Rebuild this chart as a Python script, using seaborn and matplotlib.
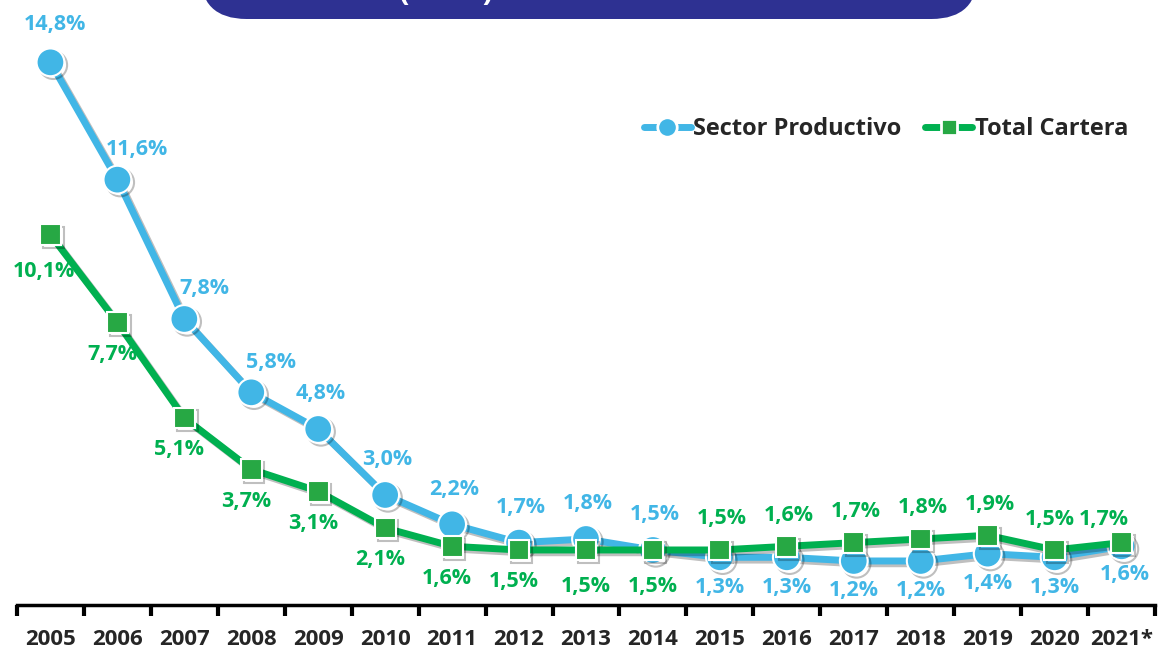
import numpy as np
import pandas as pd
import matplotlib.pyplot as plt
import matplotlib.patheffects as pe
from matplotlib.patches import FancyBboxPatch
from matplotlib.lines import Line2D
import seaborn as sns

# Data (percent)
years = ["2005", "2006", "2007", "2008", "2009", "2010", "2011", "2012", "2013",
         "2014", "2015", "2016", "2017", "2018", "2019", "2020", "2021*"]
sector_productivo = [14.8, 11.6, 7.8, 5.8, 4.8, 3.0, 2.2, 1.7, 1.8,
                     1.5, 1.3, 1.3, 1.2, 1.2, 1.4, 1.3, 1.6]
total_cartera = [10.1, 7.7, 5.1, 3.7, 3.1, 2.1, 1.6, 1.5, 1.5,
                 1.5, 1.5, 1.6, 1.7, 1.8, 1.9, 1.5, 1.7]

BLUE = "#41B6E6"
GREEN = "#00B050"
GREEN_MK = "#27A844"

sns.set_style("white")
plt.rcParams["font.family"] = ["Open Sans", "DejaVu Sans"]

df = pd.DataFrame({"year": years, "pos": np.arange(len(years)),
                   "sp": sector_productivo, "tc": total_cartera})

fig = plt.figure(figsize=(11.62, 6.51), dpi=100)
ax = fig.add_axes([0.0146, 0.0707, 0.9794, 0.9293])

shadow = [pe.SimpleLineShadow(offset=(2, -2), alpha=0.25, shadow_color="black"), pe.Normal()]

sns.lineplot(data=df, x="pos", y="sp", ax=ax, color=BLUE, linewidth=5,
             marker="o", markersize=20, markerfacecolor=BLUE,
             markeredgecolor="white", markeredgewidth=1.5, path_effects=shadow)
sns.lineplot(data=df, x="pos", y="tc", ax=ax, color=GREEN, linewidth=5,
             marker="s", markersize=15, markerfacecolor=GREEN_MK,
             markeredgecolor="white", markeredgewidth=1.5, path_effects=shadow)

def fmt(v):
    return f"{v:.1f}%".replace(".", ",")

LBL = 15.5
n = len(years)
for i in range(n):
    # blue labels: above for first part, below later
    if i < 10:
        dx, dy = (5, 38) if i == 0 else ((20, 30) if i in (1, 2, 3) else (2, 35))
    else:
        dx, dy = (0, -30)
        if i == 16:
            dx, dy = (3, -28)
    ax.annotate(fmt(sector_productivo[i]), (i, sector_productivo[i]),
                xytext=(dx, dy), textcoords="offset pixels", ha="center", va="center",
                color=BLUE, fontsize=LBL, fontweight="bold")
    if i < 10:
        dx, dy = (-7, -37) if i == 0 else (-5, -32)
        if i in (8, 9):
            dx, dy = (0, -37)
    else:
        dx, dy = (2, 31)
        if i == 16:
            dx, dy = (-18, 23)
        if i == 15:
            dx, dy = (-5, 30)
    ax.annotate(fmt(total_cartera[i]), (i, total_cartera[i]),
                xytext=(dx, dy), textcoords="offset pixels", ha="center", va="center",
                color=GREEN, fontsize=LBL, fontweight="bold")

ax.set_xlim(-0.5, n - 0.5)
ax.set_ylim(0, 16.5)
ax.set_xlabel("")
ax.set_ylabel("")
ax.set_yticks([])
ax.set_xticks(np.arange(-0.5, n, 1.0))
ax.set_xticklabels([])
ax.set_xticks(np.arange(n), minor=True)
ax.set_xticklabels(years, minor=True, fontsize=16, fontweight="bold")
ax.tick_params(axis="x", which="major", bottom=True, length=8, width=3,
               direction="out", color="black")
ax.tick_params(axis="x", which="minor", bottom=True, length=0, pad=17)
for s in ["top", "left", "right"]:
    ax.spines[s].set_visible(False)
ax.spines["bottom"].set_linewidth(2.5)
ax.spines["bottom"].set_color("black")

handles = [Line2D([], [], color=BLUE, linewidth=5, marker="o", markersize=14,
                  markerfacecolor=BLUE, markeredgecolor="white", markeredgewidth=2),
           Line2D([], [], color=GREEN, linewidth=5, marker="s", markersize=12,
                  markerfacecolor=GREEN_MK, markeredgecolor="white", markeredgewidth=2)]
ax.legend(handles, ["Sector Productivo", "Total Cartera"], loc="upper right",
          bbox_to_anchor=(0.995, 0.842), ncol=2, frameon=False, handlelength=2.0,
          handletextpad=0.1, columnspacing=1.0,
          prop={"size": 17, "weight": "bold"})

# banner at top (cut off)
banner = FancyBboxPatch((200 / 1162, 1 - 19 / 651), 778 / 1162, 0.15,
                        boxstyle="round,pad=0,rounding_size=0.04",
                        transform=fig.transFigure, facecolor="#2E3192",
                        edgecolor="none", mutation_aspect=1162 / 651)
fig.patches.append(banner)
fig.text(0.384, 1 + 8 / 651, "(en %)", ha="center", va="center",
         color="white", fontsize=22, fontweight="bold")

fig.savefig("out.png", dpi=100)
